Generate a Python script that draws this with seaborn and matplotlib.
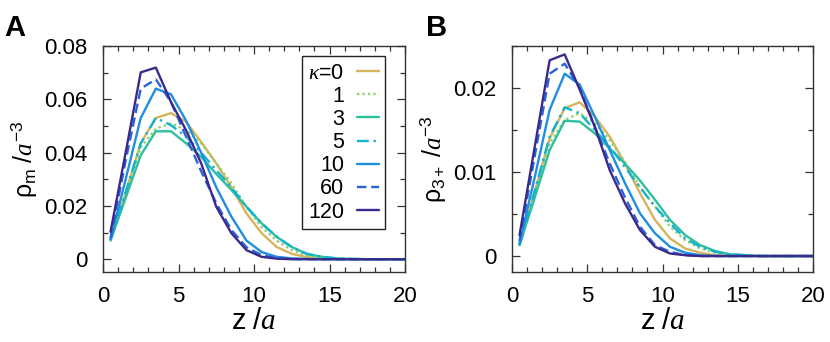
import numpy as np
import pandas as pd
import matplotlib
matplotlib.use("Agg")
import matplotlib.pyplot as plt
import seaborn as sns

z = [0.5, 1.5, 2.5, 3.5, 4.5, 5.5, 6.5, 7.5, 8.5, 9.5, 10.5, 11.5, 12.5, 13.5, 14.5, 15.5, 16.5, 17.5, 18.5, 19.5, 20.5]
kappas = ["0", "1", "3", "5", "10", "60", "120"]

# Panel A: rho_m
rho_m_k0 = [0.0075, 0.025, 0.0435, 0.053, 0.0548, 0.0516, 0.044, 0.036, 0.027, 0.0172, 0.0098, 0.0046, 0.002, 0.0008, 0.0003, 0.0001, 0, 0, 0, 0, 0]
rho_m_k1 = [0.007, 0.024, 0.042, 0.049, 0.051, 0.0485, 0.0435, 0.036, 0.0285, 0.0197, 0.012, 0.007, 0.0034, 0.0014, 0.0005, 0.0002, 0.0001, 0, 0, 0, 0]
rho_m_k3 = [0.007, 0.023, 0.039, 0.048, 0.048, 0.0435, 0.0384, 0.032, 0.026, 0.0197, 0.0135, 0.0084, 0.0046, 0.002, 0.0009, 0.0003, 0.0001, 0, 0, 0, 0]
rho_m_k5 = [0.0075, 0.025, 0.0435, 0.053, 0.0503, 0.046, 0.040, 0.0334, 0.027, 0.0197, 0.0135, 0.0084, 0.0046, 0.002, 0.0009, 0.0003, 0.0001, 0, 0, 0, 0]
rho_m_k10 = [0.0075, 0.030, 0.053, 0.064, 0.0619, 0.052, 0.040, 0.027, 0.016, 0.007, 0.0027, 0.0009, 0.0003, 0.0001, 0, 0, 0, 0, 0, 0, 0]
rho_m_k60 = [0.008, 0.037, 0.064, 0.0675, 0.059, 0.046, 0.033, 0.021, 0.011, 0.0045, 0.0015, 0.0004, 0.0001, 0, 0, 0, 0, 0, 0, 0, 0]
rho_m_k120 = [0.0103, 0.040, 0.0701, 0.0719, 0.059, 0.0484, 0.036, 0.0197, 0.0098, 0.0034, 0.0009, 0.0002, 0, 0, 0, 0, 0, 0, 0, 0, 0]

# Panel B: rho_3+
rho3_k0 = [0.0013, 0.0076, 0.0140, 0.0176, 0.0183, 0.0166, 0.0142, 0.0110, 0.0075, 0.0043, 0.0021, 0.0009, 0.0004, 0.0001, 0, 0, 0, 0, 0, 0, 0]
rho3_k1 = [0.0013, 0.0073, 0.0134, 0.0162, 0.0170, 0.0158, 0.0138, 0.0112, 0.0082, 0.0059, 0.0035, 0.0019, 0.0009, 0.0004, 0.0002, 0.0001, 0, 0, 0, 0, 0]
rho3_k3 = [0.0013, 0.0069, 0.0126, 0.0161, 0.0160, 0.0146, 0.0128, 0.0110, 0.0090, 0.0067, 0.0043, 0.0025, 0.0013, 0.0006, 0.0002, 0.0001, 0, 0, 0, 0, 0]
rho3_k5 = [0.0013, 0.0077, 0.0142, 0.0177, 0.0170, 0.0150, 0.0130, 0.0106, 0.0082, 0.0059, 0.0039, 0.0021, 0.0011, 0.0005, 0.0002, 0.0001, 0, 0, 0, 0, 0]
rho3_k10 = [0.0015, 0.0093, 0.0174, 0.0217, 0.0204, 0.0166, 0.0126, 0.0087, 0.0051, 0.0027, 0.0011, 0.0004, 0.0001, 0, 0, 0, 0, 0, 0, 0, 0]
rho3_k60 = [0.0018, 0.0118, 0.0217, 0.0229, 0.0200, 0.0154, 0.0110, 0.0070, 0.0035, 0.0013, 0.0005, 0.0001, 0, 0, 0, 0, 0, 0, 0, 0, 0]
rho3_k120 = [0.0025, 0.0129, 0.0233, 0.0240, 0.0198, 0.0154, 0.0102, 0.0063, 0.0031, 0.0011, 0.0003, 0.0001, 0, 0, 0, 0, 0, 0, 0, 0, 0]

colors = ["#d6b45c", "#8fd16f", "#2dbf9e", "#14b2cf", "#1f8ee0", "#2a62d8", "#3b2a8c"]
styles = ["-", (0, (1, 1.3)), "-", (0, (5, 2, 1, 2)), "-", (0, (4, 2)), "-"]

sns.set_style("ticks")
plt.rcParams["font.family"] = ["Liberation Sans", "DejaVu Sans"]
plt.rcParams["mathtext.fontset"] = "custom"
plt.rcParams["mathtext.rm"] = "Liberation Sans"
plt.rcParams["mathtext.it"] = "Liberation Serif:italic"
plt.rcParams["mathtext.bf"] = "Liberation Sans:bold"
plt.rcParams["text.color"] = "black"
plt.rcParams["axes.labelcolor"] = "black"
plt.rcParams["xtick.color"] = "#333333"
plt.rcParams["ytick.color"] = "#333333"
plt.rcParams["xtick.labelcolor"] = "black"
plt.rcParams["ytick.labelcolor"] = "black"

fig = plt.figure(figsize=(8.3, 3.42), dpi=100)
axA = fig.add_axes([103 / 830, 70 / 342, 302 / 830, 226 / 342])
axB = fig.add_axes([512 / 830, 70 / 342, 301 / 830, 226 / 342])

dataA = [rho_m_k0, rho_m_k1, rho_m_k3, rho_m_k5, rho_m_k10, rho_m_k60, rho_m_k120]
dataB = [rho3_k0, rho3_k1, rho3_k3, rho3_k5, rho3_k10, rho3_k60, rho3_k120]

for ax, data in [(axA, dataA), (axB, dataB)]:
    for i, (k, ys) in enumerate(zip(kappas, data)):
        lab = r"$\kappa$=0" if k == "0" else k
        df = pd.DataFrame({"z": z, "rho": ys})
        sns.lineplot(data=df, x="z", y="rho", ax=ax, color=colors[i], linestyle=styles[i],
                     linewidth=1.7, label=lab, legend=False)

for ax in (axA, axB):
    ax.set_xlim(0, 20)
    ax.set_xticks([0, 5, 10, 15, 20])
    ax.set_xticks(np.arange(0, 21, 1), minor=True)
    ax.tick_params(which="both", direction="in", top=True, right=True, labelsize=16,
                   color="#333333", width=0.9)
    ax.tick_params(which="major", length=6)
    ax.tick_params(which="minor", length=3.5)
    ax.tick_params(axis="x", pad=10)
    ax.tick_params(axis="y", pad=11)
    for s in ax.spines.values():
        s.set_color("#333333")
        s.set_linewidth(1.0)
    ax.set_xlabel(r"$\mathrm{z}\ /\mathit{a}$", fontsize=21, labelpad=0)

axA.set_ylim(-0.0048, 0.08)
axA.set_yticks([0, 0.02, 0.04, 0.06, 0.08])
axA.set_yticklabels(["0", "0.02", "0.04", "0.06", "0.08"])
axA.set_yticks(np.arange(0, 0.0801, 0.01), minor=True)
axA.set_ylabel(r"$\mathrm{\rho_m}\ /\mathit{a}^{\mathrm{-3}}$", fontsize=18, labelpad=4)

axB.set_ylim(-0.0019, 0.025)
axB.set_yticks([0, 0.01, 0.02])
axB.set_yticklabels(["0", "0.01", "0.02"])
axB.set_yticks(np.arange(0, 0.0251, 0.005), minor=True)
axB.set_ylabel(r"$\mathrm{\rho_{3+}}\ /\mathit{a}^{\mathrm{-3}}$", fontsize=18, labelpad=4)

handles, labels = axA.get_legend_handles_labels()
leg = axA.legend(handles, labels, loc="upper right", bbox_to_anchor=(0.935, 0.955),
                 markerfirst=False, fontsize=15.5, handlelength=1.0, handletextpad=0.6,
                 labelspacing=0.1, borderpad=0.3, fancybox=False, framealpha=1,
                 edgecolor="#222222", borderaxespad=0)
leg.get_frame().set_linewidth(1.0)

fig.text(15 / 830, 1 - 28 / 342, "A", fontsize=21, fontweight="bold", ha="center", va="center")
fig.text(437 / 830, 1 - 28 / 342, "B", fontsize=21, fontweight="bold", ha="center", va="center")

fig.savefig("out.png", dpi=100)
